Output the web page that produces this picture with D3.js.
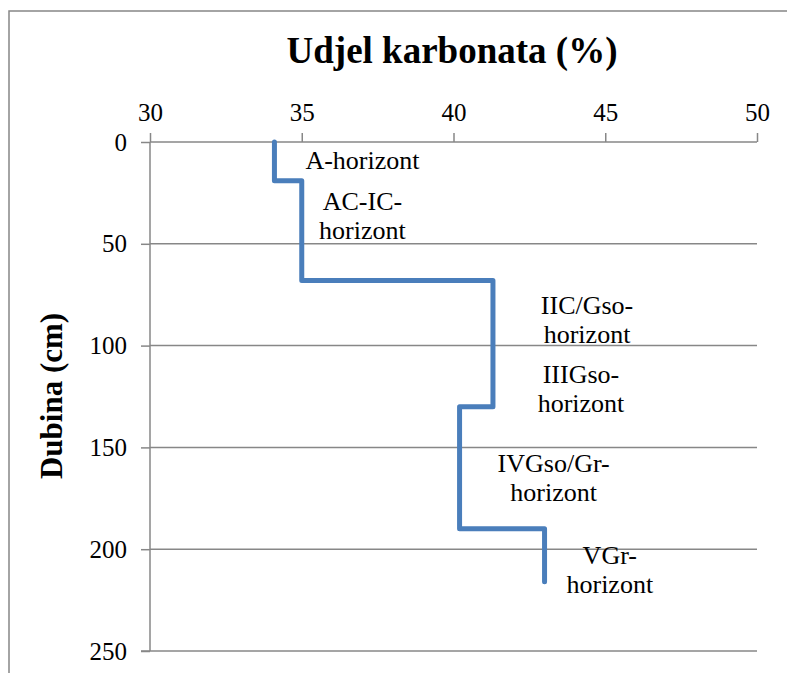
<!DOCTYPE html>
<html>
<head>
<meta charset="utf-8">
<script src="https://cdn.jsdelivr.net/npm/d3@7/dist/d3.min.js"></script>
<style>
  html, body { margin: 0; padding: 0; background: #fff; }
  svg { display: block; }
  text { font-family: "Liberation Serif", "Times New Roman", serif; fill: #000; }
</style>
</head>
<body>
<svg id="chart" width="787" height="673"></svg>
<script>
// Soil profile: carbonate share (%) per horizon, with depth limits (cm)
const horizonNames = [
  ["A-horizont"],
  ["AC-IC-", "horizont"],
  ["IIC/Gso-", "horizont"],
  ["IIIGso-", "horizont"],
  ["IVGso/Gr-", "horizont"],
  ["VGr-", "horizont"]
];
const depthTop    = [0, 19, 68, 130, 190];
const depthBottom = [19, 68, 130, 190, 216];
const carbonate   = [34.1, 35.0, 41.3, 40.2, 43.0];

// Label anchors: carbonate value (%) of the label centre and depth (cm) of its first line
const labelX     = [37.0, 37.0, 44.4, 44.2, 43.3, 45.15];
const labelDepth = [13.5, 33.5, 84.5, 118.5, 162, 207.5];

const xTicks = [30, 35, 40, 45, 50];
const yTicks = [0, 50, 100, 150, 200, 250];

const svg = d3.select("#chart");
const gray = "#878787";

// frame
svg.append("path")
  .attr("d", "M9,673 V11 H787")
  .attr("fill", "none").attr("stroke", gray).attr("stroke-width", 1.5);

const x = d3.scaleLinear().domain([30, 50]).range([150, 757]);
const y = d3.scaleLinear().domain([0, 250]).range([142, 651]);

// horizontal gridlines
svg.append("g").selectAll("line")
  .data(yTicks.filter(t => t !== 0 && t !== 250))
  .join("line")
  .attr("x1", x(30)).attr("x2", x(50))
  .attr("y1", d => y(d)).attr("y2", d => y(d))
  .attr("stroke", gray).attr("stroke-width", 1.5);

// top (x) axis
const xAxis = svg.append("g")
  .attr("transform", `translate(0,${y(0)})`)
  .call(d3.axisTop(x).tickValues(xTicks).tickSize(9).tickPadding(12).tickFormat(d3.format("d")));
// left (y) axis
const yAxis = svg.append("g")
  .attr("transform", `translate(${x(30)},0)`)
  .call(d3.axisLeft(y).tickValues(yTicks).tickSize(9).tickPadding(14).tickFormat(d3.format("d")));

[xAxis, yAxis].forEach(g => {
  g.select(".domain").remove();
  g.selectAll(".tick line").attr("stroke", gray).attr("stroke-width", 1.5);
  g.selectAll(".tick text")
    .style("font-family", '"Liberation Serif", "Times New Roman", serif')
    .style("font-size", "25px").attr("fill", "#000");
});
// axis lines
svg.append("line").attr("x1", x(30)).attr("x2", x(50)).attr("y1", y(0)).attr("y2", y(0))
  .attr("stroke", gray).attr("stroke-width", 1.5);
svg.append("line").attr("x1", x(30)).attr("x2", x(30)).attr("y1", y(0)).attr("y2", y(250))
  .attr("stroke", gray).attr("stroke-width", 1.5);
// bottom axis line
svg.append("line").attr("x1", x(30) - 9).attr("x2", x(50)).attr("y1", y(250)).attr("y2", y(250))
  .attr("stroke", gray).attr("stroke-width", 1.5);

// step profile of carbonate share by depth
const pts = [];
carbonate.forEach((v, i) => {
  pts.push([v, depthTop[i]]);
  pts.push([v, depthBottom[i]]);
});
svg.append("path")
  .datum(pts)
  .attr("d", d3.line().x(d => x(d[0])).y(d => y(d[1])))
  .attr("fill", "none")
  .attr("stroke", "#4a7ebb")
  .attr("stroke-width", 5)
  .attr("stroke-linejoin", "round")
  .attr("stroke-linecap", "round");

// horizon labels
const lab = svg.append("g");
horizonNames.forEach((lines, i) => {
  const t = lab.append("text")
    .attr("text-anchor", "middle")
    .style("font-size", "26px");
  lines.forEach((s, k) => {
    t.append("tspan")
      .attr("x", x(labelX[i]))
      .attr("y", y(labelDepth[i]) + k * 29)
      .text(s);
  });
});

// titles
svg.append("text")
  .attr("x", 452).attr("y", 63)
  .attr("text-anchor", "middle")
  .style("font-size", "37px").style("font-weight", "bold")
  .text("Udjel karbonata (%)");

svg.append("text")
  .attr("transform", "translate(62,396) rotate(-90)")
  .attr("text-anchor", "middle")
  .style("font-size", "31px").style("font-weight", "bold")
  .text("Dubina (cm)");
</script>
</body>
</html>
